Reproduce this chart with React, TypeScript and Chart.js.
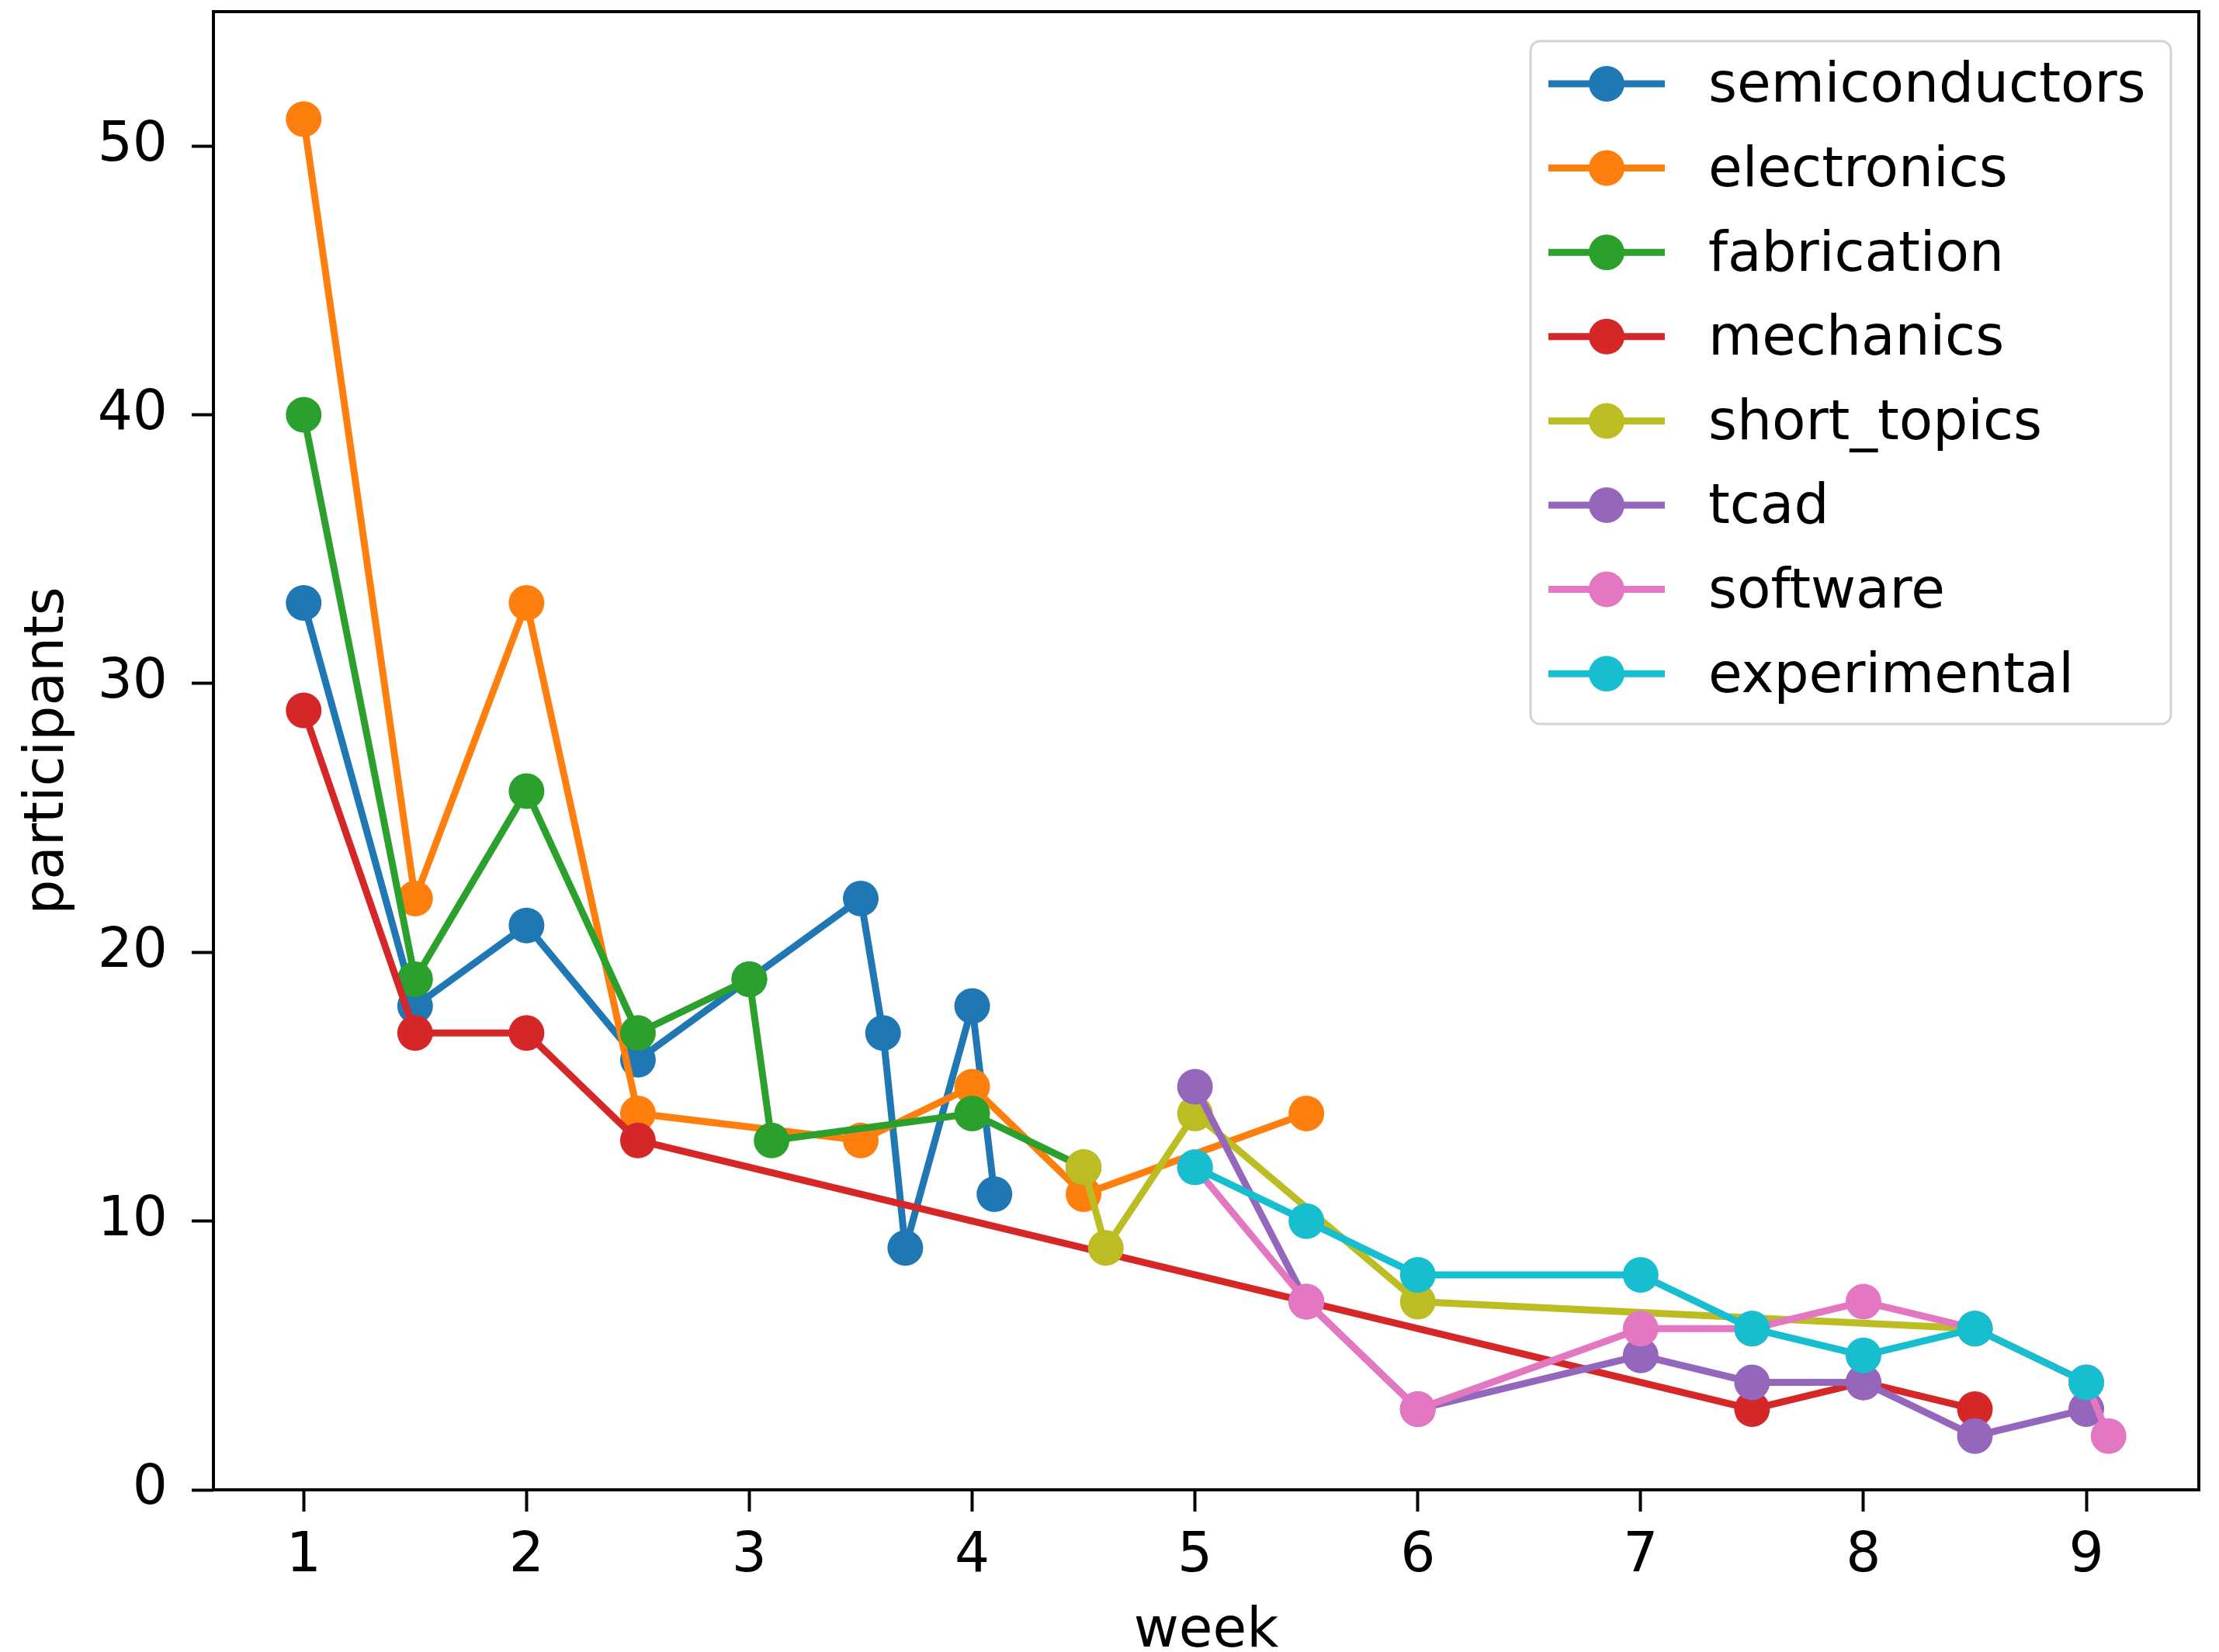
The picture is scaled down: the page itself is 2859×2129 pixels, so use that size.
import { useEffect, useRef } from 'react';
import { Chart, registerables } from 'chart.js';

Chart.register(...registerables);

const seriesNames = ['semiconductors', 'electronics', 'fabrication', 'mechanics', 'short_topics', 'tcad', 'software', 'experimental'];
const seriesColors = ['#1f77b4', '#ff7f0e', '#2ca02c', '#d62728', '#bcbd22', '#9467bd', '#e377c2', '#17becf'];

const semiconductorsWeeks = [1, 1.5, 2, 2.5, 3, 3.5, 3.6, 3.7, 4, 4.1];
const semiconductorsParticipants = [33, 18, 21, 16, 19, 22, 17, 9, 18, 11];

const electronicsWeeks = [1, 1.5, 2, 2.5, 3.5, 4, 4.5, 5.5];
const electronicsParticipants = [51, 22, 33, 14, 13, 15, 11, 14];

const fabricationWeeks = [1, 1.5, 2, 2.5, 3, 3.1, 4, 4.5];
const fabricationParticipants = [40, 19, 26, 17, 19, 13, 14, 12];

const mechanicsWeeks = [1, 1.5, 2, 2.5, 7.5, 8, 8.5];
const mechanicsParticipants = [29, 17, 17, 13, 3, 4, 3];

const shortTopicsWeeks = [4.5, 4.6, 5, 6, 8.5];
const shortTopicsParticipants = [12, 9, 14, 7, 6];

const tcadWeeks = [5, 5.5, 6, 7, 7.5, 8, 8.5, 9];
const tcadParticipants = [15, 7, 3, 5, 4, 4, 2, 3];

const softwareWeeks = [5, 5.5, 6, 7, 7.5, 8, 8.5, 9, 9.1];
const softwareParticipants = [12, 7, 3, 6, 6, 7, 6, 4, 2];

const experimentalWeeks = [5, 5.5, 6, 7, 7.5, 8, 8.5, 9];
const experimentalParticipants = [12, 10, 8, 8, 6, 5, 6, 4];

const seriesWeeks = [semiconductorsWeeks, electronicsWeeks, fabricationWeeks, mechanicsWeeks, shortTopicsWeeks, tcadWeeks, softwareWeeks, experimentalWeeks];
const seriesParticipants = [semiconductorsParticipants, electronicsParticipants, fabricationParticipants, mechanicsParticipants, shortTopicsParticipants, tcadParticipants, softwareParticipants, experimentalParticipants];

const xTicks = [1, 2, 3, 4, 5, 6, 7, 8, 9];
const yTicks = [0, 10, 20, 30, 40, 50];

const xLabel = 'week';
const yLabel = 'participants';

const FAMILY = "'DejaVu Sans', sans-serif";
const FONT_SIZE = 71;
const LINE_W = 9;
const POINT_R = 23;

const framePlugin = {
  id: 'mplFrame',
  afterDatasetsDraw(chart: any) {
    const { ctx, chartArea } = chart;
    ctx.save();
    ctx.strokeStyle = '#000';
    ctx.lineWidth = 4;
    ctx.strokeRect(chartArea.left, chartArea.top, chartArea.right - chartArea.left, chartArea.bottom - chartArea.top);
    ctx.restore();
  },
};

const legendPlugin = {
  id: 'mplLegend',
  afterDraw(chart: any) {
    const { ctx, chartArea } = chart;
    const right = chartArea.right - 36;
    const top = chartArea.top + 38;
    const width = 825;
    const height = 880;
    const left = right - width;
    const pitch = 108.6;
    const firstRow = top + 55;
    ctx.save();
    ctx.beginPath();
    if (ctx.roundRect) ctx.roundRect(left, top, width, height, 12);
    else ctx.rect(left, top, width, height);
    ctx.fillStyle = 'rgba(255,255,255,0.8)';
    ctx.fill();
    ctx.strokeStyle = '#d4d4d4';
    ctx.lineWidth = 3;
    ctx.stroke();
    ctx.font = `${FONT_SIZE}px ${FAMILY}`;
    ctx.textBaseline = 'middle';
    ctx.textAlign = 'left';
    seriesNames.forEach((name, i) => {
      const y = firstRow + i * pitch;
      const color = seriesColors[i];
      ctx.strokeStyle = color;
      ctx.lineWidth = LINE_W;
      ctx.beginPath();
      ctx.moveTo(left + 23, y);
      ctx.lineTo(left + 173, y);
      ctx.stroke();
      ctx.fillStyle = color;
      ctx.beginPath();
      ctx.arc(left + 98, y, POINT_R, 0, Math.PI * 2);
      ctx.fill();
      ctx.fillStyle = '#000';
      ctx.fillText(name, left + 229, y + 5);
    });
    ctx.restore();
  },
};

export default function App() {
  const ref = useRef<HTMLCanvasElement>(null);

  useEffect(() => {
    const n = seriesNames.length;
    const datasets = seriesNames.map((name, i) => ({
      label: name,
      data: seriesWeeks[i].map((w, j) => ({ x: w, y: seriesParticipants[i][j] })),
      borderColor: seriesColors[i],
      backgroundColor: seriesColors[i],
      pointBackgroundColor: seriesColors[i],
      pointBorderWidth: 0,
      pointRadius: POINT_R,
      pointHoverRadius: POINT_R,
      borderWidth: LINE_W,
      tension: 0,
      fill: false,
      order: n - 1 - i,
      clip: false as any,
    }));

    const tickFont = { family: FAMILY, size: FONT_SIZE, lineHeight: 1.2 };

    const chart = new Chart(ref.current!, {
      type: 'line',
      data: { datasets },
      plugins: [framePlugin, legendPlugin],
      options: {
        animation: false,
        responsive: false,
        devicePixelRatio: 1,
        events: [],
        layout: { autoPadding: false, padding: { top: 15, right: 26, left: 0, bottom: 0 } },
        plugins: {
          legend: { display: false },
          tooltip: { enabled: false },
        },
        scales: {
          x: {
            type: 'linear',
            min: 0.595,
            max: 9.505,
            afterBuildTicks: (s: any) => {
              s.ticks = xTicks.map((v) => ({ value: v }));
            },
            afterFit: (s: any) => {
              s.height = 209;
              s.paddingLeft = 0;
              s.paddingRight = 0;
            },
            grid: {
              drawOnChartArea: false,
              drawTicks: true,
              tickLength: 28,
              tickWidth: 4,
              tickColor: '#000',
              color: '#000',
            },
            border: { display: false },
            ticks: {
              font: tickFont,
              color: '#000',
              padding: 16,
              maxRotation: 0,
              minRotation: 0,
              autoSkip: false,
              callback: (v: any) => String(v),
            },
            title: {
              display: true,
              text: xLabel,
              color: '#000',
              font: { family: FAMILY, size: FONT_SIZE, lineHeight: 0.72 },
              padding: 0,
            },
          },
          y: {
            type: 'linear',
            min: 0,
            max: 55,
            afterBuildTicks: (s: any) => {
              s.ticks = yTicks.map((v) => ({ value: v }));
            },
            afterFit: (s: any) => {
              s.width = 275;
              s.paddingTop = 0;
              s.paddingBottom = 0;
            },
            grid: {
              drawOnChartArea: false,
              drawTicks: true,
              tickLength: 28,
              tickWidth: 4,
              tickColor: '#000',
              color: '#000',
            },
            border: { display: false },
            ticks: {
              font: tickFont,
              color: '#000',
              padding: 31,
              autoSkip: false,
              callback: (v: any) => String(v),
            },
            title: {
              display: true,
              text: yLabel,
              color: '#000',
              font: { family: FAMILY, size: FONT_SIZE, lineHeight: 1.2 },
              padding: { top: 20, bottom: 0 },
            },
          },
        },
      } as any,
    });
    return () => chart.destroy();
  }, []);

  return (
    <canvas
      ref={ref}
      width={2859}
      height={2129}
      style={{ position: 'fixed', left: 0, top: 0, width: '2859px', height: '2129px', display: 'block', background: '#fff' }}
    />
  );
}
